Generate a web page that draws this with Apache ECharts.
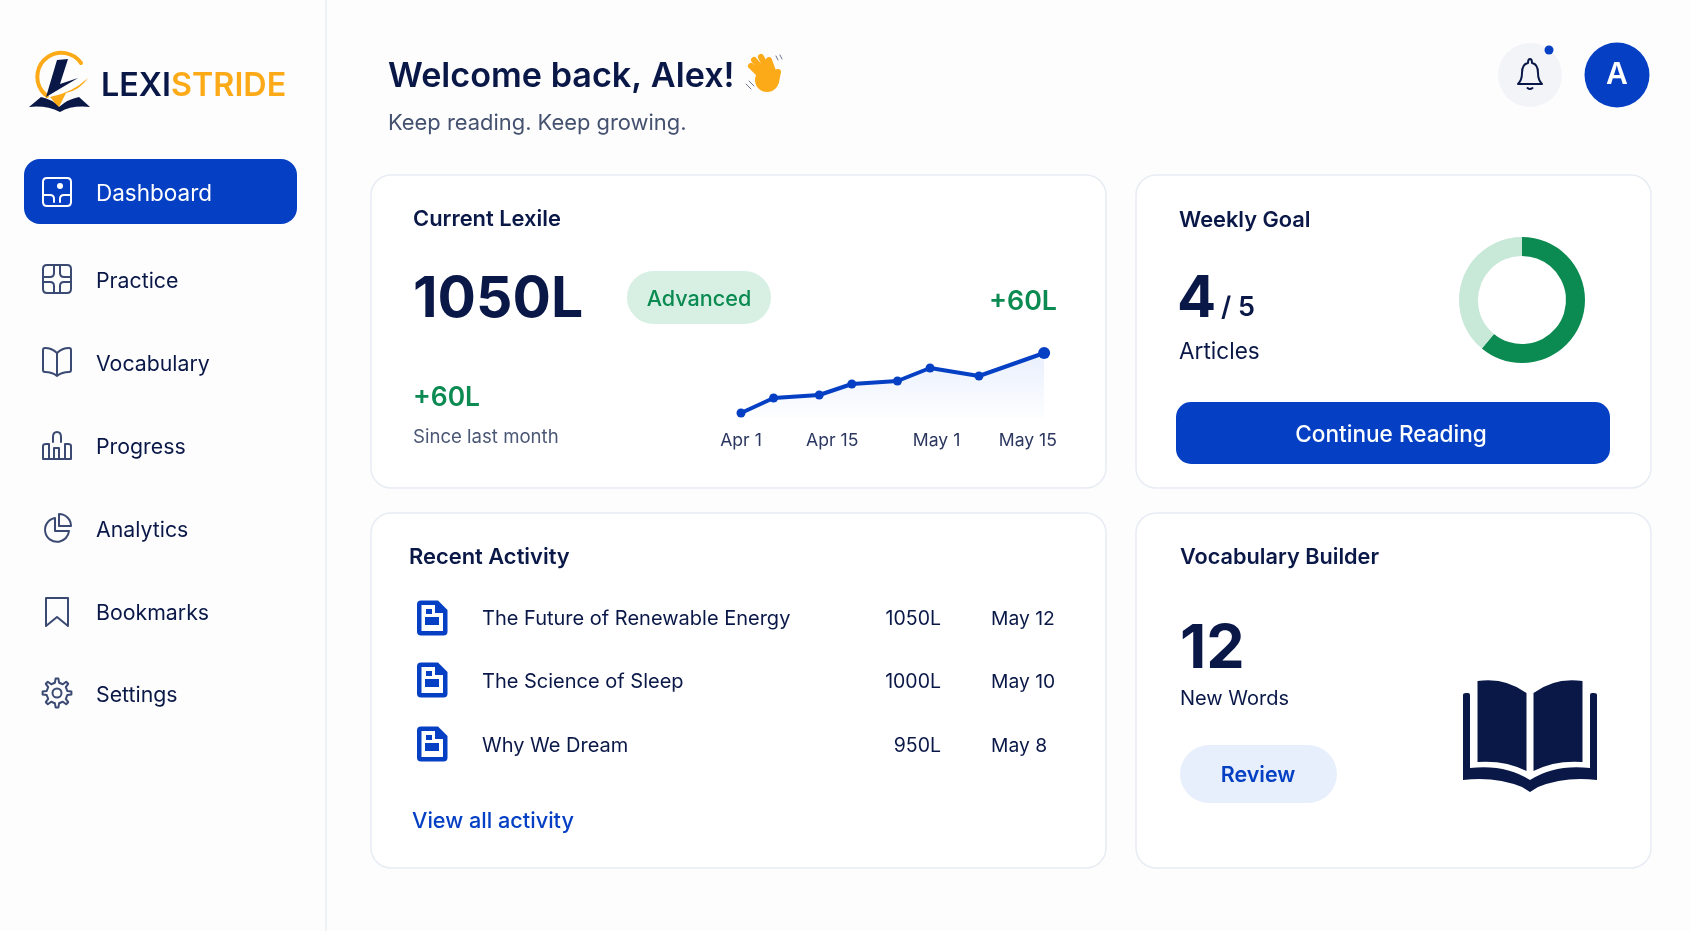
<!DOCTYPE html>
<html>
<head>
<meta charset="utf-8" />
<title>LexiStride Dashboard</title>
<script src="https://cdn.jsdelivr.net/npm/echarts@6/dist/echarts.min.js"></script>
<style>
  html, body { margin: 0; height: 100%; background: #fdfdfe; }
  #container { width: 100%; height: 100%; }
</style>
</head>
<body>
<div id="container"></div>
<script type="text/javascript">
// values
var menuLabels = ['Dashboard', 'Practice', 'Vocabulary', 'Progress', 'Analytics', 'Bookmarks', 'Settings'];
var activityTitles = ['The Future of Renewable Energy', 'The Science of Sleep', 'Why We Dream'];
var activityLexile = ['1050L', '1000L', '950L'];
var activityDates = ['May 12', 'May 10', 'May 8'];
// days since Apr 1 / lexile
var sparkDays = [0, 5, 12, 17, 24, 29, 36.5, 46.5];
var sparkValues = [990, 1005, 1008, 1019, 1022, 1035, 1027, 1050];
var tickDays = [0, 14, 30, 44];
var tickLabels = ['Apr 1', 'Apr 15', 'May 1', 'May 15'];
var goalNames = ['Done', 'Left'];
var goalShare = [61, 39];

var NAVY = '#0a1848', BLUE = '#0540c4', GREEN = '#0b8a52', ORANGE = '#fcaa17', ICON = '#3b4a72', FONT = 'Inter';

var dom = document.getElementById('container');
var myChart = echarts.init(dom, null, { renderer: 'canvas' });

// graphic component has no plain 'path' type, so each icon path is registered as a shape
var shapeCount = 0;
var shapeNames = {};
function pathShape(d) {
  if (!shapeNames[d]) {
    shapeNames[d] = 'iconPath' + (shapeCount++);
    echarts.graphic.registerShape(shapeNames[d], echarts.graphic.extendPath(d, {}));
  }
  return shapeNames[d];
}

function txt(x, y, s, size, weight, color, align) {
  return {
    type: 'text', x: x, y: y + 2, z: 5,
    style: { text: s, fontFamily: FONT, fontSize: size, fontWeight: weight, fill: color || NAVY, align: align || 'left', verticalAlign: 'middle' }
  };
}
function rect(x, y, w, h, r, fill, stroke) {
  return {
    type: 'rect', z: 1,
    shape: { x: x, y: y, width: w, height: h, r: r },
    style: { fill: fill, stroke: stroke || null, lineWidth: stroke ? 1.5 : 0 }
  };
}
function stroked(x, y, d, color, width) {
  return {
    type: pathShape(d), x: x, y: y, z: 5,
    style: { fill: null, stroke: color, lineWidth: width || 2, lineJoin: 'round', lineCap: 'round' }
  };
}
function filled(x, y, d, color) {
  return { type: pathShape(d), x: x, y: y, z: 5, style: { fill: color } };
}
function gearPath() {
  // 8 teeth, icon only
  var d = '', n = 8, i, a, pts = [];
  for (i = 0; i < n; i++) {
    a = i / n * Math.PI * 2;
    [[-0.2, 10.5], [-0.1, 14.5], [0.1, 14.5], [0.2, 10.5]].forEach(function (p) {
      pts.push([(Math.sin(a + p[0]) * p[1]).toFixed(1), (-Math.cos(a + p[0]) * p[1]).toFixed(1)]);
    });
  }
  pts.forEach(function (p, k) { d += (k ? 'L' : 'M') + p[0] + ' ' + p[1]; });
  return d + 'Z M4.5 0 A4.5 4.5 0 1 1 -4.5 0 A4.5 4.5 0 1 1 4.5 0 Z';
}

var boxPath = 'M-10 -14H10Q14 -14 14 -10V10Q14 14 10 14H-10Q-14 14 -14 10V-10Q-14 -14 -10 -14Z';
var menuIcons = [
  boxPath + 'M-14 3H-7Q-3 3 -3 7V10M14 3H7Q3 3 3 7V10',
  boxPath + 'M-14 -2H-7Q-3 -2 -3 -6V-14M14 -2H7Q3 -2 3 -6V-14M-14 3H-7Q-3 3 -3 7V14M14 3H7Q3 3 3 7V14',
  'M0 -9Q-5 -14 -12 -14Q-14 -14 -14 -12V8Q-14 10 -12 10Q-5 10 0 14Q5 10 12 10Q14 10 14 8V-12Q14 -14 12 -14Q5 -14 0 -9ZM0 -9V14',
  'M-14 14H14M-14 14V1Q-14 -1 -11 -1H-8V14M-3 14V3H2V14M8 14V-1H11Q14 -1 14 1V14M-4 -3V-8Q-4 -13 0 -13Q4 -13 4 -8V-3',
  'M-2 -10A12 12 0 1 0 12 3H-2ZM2 -14A12 12 0 0 1 14 -2H2Z',
  'M-11 -14H11V14L0 5L-11 14Z',
  gearPath()
];
var menuY = [192, 280, 363, 446, 529, 612, 694];
var iconY = [192, 279, 362, 445, 528, 612, 693];

var els = [];
// sidebar
els.push({ type: 'rect', z: 1, shape: { x: 325, y: 0, width: 2, height: 931 }, style: { fill: '#eef1f6' } });
els.push(rect(24, 159, 273, 65, 16, BLUE));
menuLabels.forEach(function (m, i) {
  els.push(txt(96, menuY[i], m, i === 0 ? 22.5 : 21.3, 400, i === 0 ? '#ffffff' : NAVY));
  els.push(stroked(57, iconY[i], menuIcons[i], i === 0 ? '#ffffff' : ICON, 2));
});
els.push({ type: 'circle', z: 6, shape: { cx: 60, cy: 186, r: 3 }, style: { fill: '#ffffff' } });

// logo
els.push(stroked(0, 0, 'M81 63A24 24 0 1 0 47 96', ORANGE, 4));
els.push(filled(0, 0, 'M57 60L68 59L60 84L78 78L46 97Z', NAVY));
els.push(filled(0, 0, 'M88 78Q80 90 66 93L58 109Q54 101 50 97Q72 93 88 78Z', ORANGE));
els.push(filled(0, 0, 'M29 107L41 97Q52 99 59 107Q68 99 79 97L90 107Q72 105 60 112Q46 105 29 107Z', NAVY));
els.push({
  type: 'text', x: 101, y: 86, z: 5,
  style: {
    text: '{a|LEXI}{b|STRIDE}', verticalAlign: 'middle',
    rich: {
      a: { fontFamily: FONT, fontSize: 32.3, fontWeight: 600, fill: NAVY },
      b: { fontFamily: FONT, fontSize: 32.3, fontWeight: 600, fill: ORANGE }
    }
  }
});

// header
els.push(txt(388, 75, 'Welcome back, Alex!', 34.2, 600));
els.push(txt(388, 121, 'Keep reading. Keep growing.', 21.9, 400, '#44516f'));
// waving hand
els.push({ type: 'circle', z: 5, shape: { cx: 767, cy: 80, r: 12 }, style: { fill: ORANGE } });
els.push(stroked(0, 0, 'M764 79L751 66M766 74L754 60M769 72L761 57M773 71L769 60M776 82L778 72', ORANGE, 6));
els.push(stroked(0, 0, 'M749 81L754 86M746 84L751 89M776 56L778 60M780 55L782 59', '#6b7690', 1));
// bell + avatar
els.push({ type: 'circle', z: 1, shape: { cx: 1530, cy: 75, r: 32 }, style: { fill: '#f3f4f8' } });
els.push(stroked(1530, 75, 'M-12 9Q-8 5 -8 -2Q-8 -11 -2 -12Q-2 -16 0 -16Q2 -16 2 -12Q8 -11 8 -2Q8 5 12 9ZM-2.5 13Q0 15 2.5 13', NAVY, 2));
els.push({ type: 'circle', z: 2, shape: { cx: 1549, cy: 50, r: 4.5 }, style: { fill: BLUE } });
els.push({ type: 'circle', z: 1, shape: { cx: 1617, cy: 75, r: 32.5 }, style: { fill: BLUE } });
els.push(txt(1617, 73, 'A', 30, 600, '#ffffff', 'center'));

// cards
els.push(rect(371, 175, 735, 313, 20, '#ffffff', '#e8ecf3'));
els.push(rect(1136, 175, 515, 313, 20, '#ffffff', '#e8ecf3'));
els.push(rect(371, 513, 735, 355, 20, '#ffffff', '#e8ecf3'));
els.push(rect(1136, 513, 515, 355, 20, '#ffffff', '#e8ecf3'));

// current lexile
els.push(txt(413, 217, 'Current Lexile', 21.9, 600));
els.push(txt(413, 298, '1050L', 57, 700));
els.push(rect(627, 271, 144, 53, 26.5, '#d7f0e3'));
els.push(txt(699, 297, 'Advanced', 21.6, 500, GREEN, 'center'));
els.push(txt(1057, 300, '+60L', 26.8, 600, GREEN, 'right'));
els.push(txt(413, 396, '+60L', 26.4, 600, GREEN));
els.push(txt(413, 435, 'Since last month', 18.6, 400, '#4b5875'));

// weekly goal
els.push(txt(1179, 218, 'Weekly Goal', 21.8, 600));
els.push(txt(1177, 298, '4', 58, 700));
els.push(txt(1221, 306, '/ 5', 27, 600));
els.push(txt(1179, 350, 'Articles', 22.6, 400));
els.push(rect(1176, 402, 434, 62, 15, BLUE));
els.push(txt(1391, 433, 'Continue Reading', 22.6, 500, '#ffffff', 'center'));

// recent activity
els.push(txt(409, 555, 'Recent Activity', 21.9, 600));
var rowY = [618, 680, 744];
var rowTextY = [617, 680, 744];
activityTitles.forEach(function (t, i) {
  var y = rowY[i];
  els.push(filled(432, y, 'M-11 -17.5H6L15.5 -8V13.5Q15.5 17.5 11.5 17.5H-11Q-15 17.5 -15 13.5V-13.5Q-15 -17.5 -11 -17.5Z', BLUE));
  els.push(filled(432, y, 'M-10.5 -13H3V-5H11V13H-10.5Z', '#ffffff'));
  els.push(filled(432, y, 'M-6 -9H0V-4H-6ZM-7 -1H7V7H-7Z', BLUE));
  els.push(txt(482, rowTextY[i], t, 20, 400));
  els.push(txt(941, rowTextY[i], activityLexile[i], 19.5, 400, NAVY, 'right'));
  els.push(txt(991, rowTextY[i], activityDates[i], 19.3, 400));
});
els.push(txt(412, 819, 'View all activity', 21.7, 500, BLUE));

// vocabulary builder
els.push(txt(1180, 555, 'Vocabulary Builder', 21.7, 600));
els.push(txt(1180, 648, '12', 61, 700));
els.push(txt(1180, 697, 'New Words', 20, 400));
els.push(rect(1180, 745, 157, 58, 29, '#e8effc'));
els.push(txt(1258, 774, 'Review', 21.5, 600, BLUE, 'center'));
els.push(filled(1430, 660, 'M47.5 21Q75 17 96.5 33V111Q75 100 47.5 102Z', NAVY));
els.push(filled(1430, 660, 'M152.5 21Q125 17 103.5 33V111Q125 100 152.5 102Z', NAVY));
els.push(filled(1430, 660, 'M33 35Q33 33 36 33H38Q40 33 40 35V108Q75 104 100 120Q125 104 160 108V35Q160 33 162 33H164Q167 33 167 35V120Q135 116 108 127L100 132L92 127Q65 116 33 120Z', NAVY));

var option = {
  animation: false,
  backgroundColor: '#fdfdfe',
  graphic: { elements: els },
  grid: { left: 741, top: 353, width: 306.4, height: 65, containLabel: false },
  xAxis: {
    type: 'value', min: 0, max: 47, z: 6,
    splitLine: { show: false }, axisLine: { show: false }, axisTick: { show: false },
    axisLabel: {
      customValues: tickDays,
      margin: 14, fontFamily: FONT, fontSize: 17.6, color: '#2b3760',
      formatter: function (v) { return tickLabels[tickDays.indexOf(v)]; }
    }
  },
  yAxis: { type: 'value', min: 985, max: 1050, show: false },
  series: [
    {
      type: 'line', name: 'Lexile', z: 6, clip: false,
      data: sparkDays.map(function (d, i) { return [d, sparkValues[i]]; }),
      symbol: 'circle',
      symbolSize: function (v, p) { return p.dataIndex === sparkDays.length - 1 ? 12 : 9; },
      itemStyle: { color: BLUE },
      lineStyle: { color: BLUE, width: 4 },
      areaStyle: {
        color: new echarts.graphic.LinearGradient(0, 0, 0, 1, [
          { offset: 0, color: 'rgba(10,80,230,0.13)' },
          { offset: 1, color: 'rgba(10,80,230,0.01)' }
        ])
      }
    },
    {
      type: 'pie', z: 6, silent: true,
      center: [1522, 300], radius: [44, 63], startAngle: 90,
      label: { show: false }, labelLine: { show: false },
      data: goalNames.map(function (n, i) {
        return { name: n, value: goalShare[i], itemStyle: { color: i === 0 ? GREEN : '#c8e8d8' } };
      })
    }
  ]
};
myChart.setOption(option);
window.addEventListener('resize', myChart.resize);
</script>
</body>
</html>
